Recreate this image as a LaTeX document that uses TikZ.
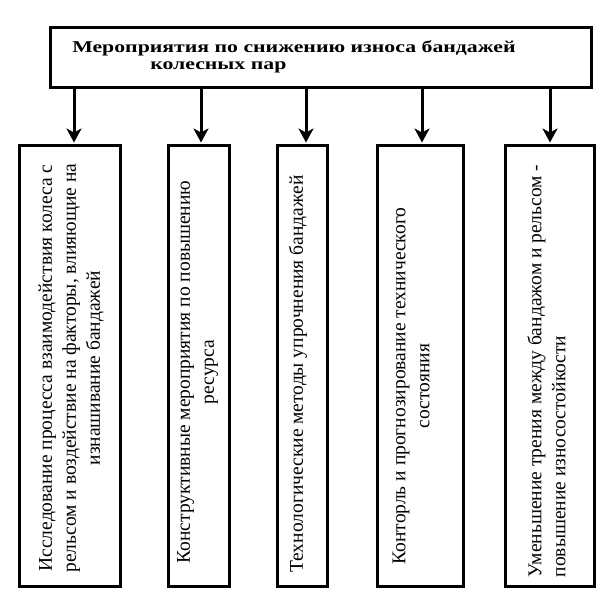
\documentclass[tikz,border=0pt]{standalone}
\usepackage{fontspec}
\setmainfont{Liberation Serif}
\usetikzlibrary{arrows.meta}
\begin{document}
\begin{tikzpicture}[x=1pt,y=-1pt,
  frame/.style={draw, line width=3pt, inner sep=0pt, minimum height=441pt},
  arr/.style={line width=3pt, -{Stealth[length=14pt,width=15pt,inset=4pt]}, shorten >=1pt},
  vtext/.style={rotate=90, inner sep=0pt, font=\fontsize{19.5}{24}\selectfont},
  ttl/.style={inner sep=0pt, anchor=base west, font=\bfseries\fontsize{16.5}{17}\selectfont, xscale=1.32}
]
\useasboundingbox (0,0) rectangle (603,607);
\node[draw, line width=3pt, minimum width=541pt, minimum height=60pt, inner sep=0pt] (top) at (320.5,58) {};
\node[ttl] (ttl1) at (72,53) {Мероприятия по снижению износа бандажей};
\node[ttl] (ttl2) at (150,70) {колесных пар};

\node[frame, minimum width=101pt] (b1) at (69.5,365.5) {};
\node[frame, minimum width=61pt] (b2) at (198.5,365.5) {};
\node[frame, minimum width=50pt] (b3) at (302,365.5) {};
\node[frame, minimum width=86pt] (b4) at (420,365.5) {};
\node[frame, minimum width=89pt] (b5) at (549.5,365.5) {};

\node[vtext, align=center] (t1) at (71,368) {Исследование процесса взаимодействия колеса с\\рельсом и воздействие на факторы, влияющие на\\изнашивание бандажей};
\node[vtext, align=center] (t2) at (197.5,372) {Конструктивные мероприятия по повышению\\ресурса};
\node[vtext, align=center] (t3) at (298,374) {Технологические методы упрочнения бандажей};
\node[vtext, align=center] (t4) at (411,386) {Конторль и прогнозирование технического\\состояния};
\node[vtext, align=left] (t5) at (546.5,371) {Уменьшение трения между бандажом и рельсом -\\повышение износостойкости};

\coordinate (x1) at (74,0);
\coordinate (x2) at (201,0);
\coordinate (x3) at (306,0);
\coordinate (x4) at (422,0);
\coordinate (x5) at (550,0);
\draw[arr] (top.south -| x1) -- (b1.north -| x1);
\draw[arr] (top.south -| x2) -- (b2.north -| x2);
\draw[arr] (top.south -| x3) -- (b3.north -| x3);
\draw[arr] (top.south -| x4) -- (b4.north -| x4);
\draw[arr] (top.south -| x5) -- (b5.north -| x5);
\end{tikzpicture}
\end{document}
